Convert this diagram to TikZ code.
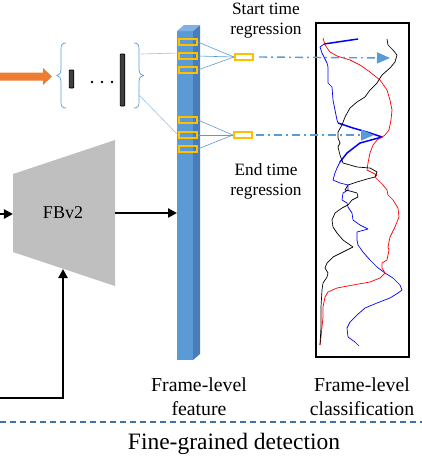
\documentclass[tikz,border=0pt]{standalone}
\usepackage{fontspec}
\setmainfont{Liberation Serif}
\usetikzlibrary{arrows.meta}
\definecolor{orng}{HTML}{ED7D31}
\definecolor{ylw}{HTML}{FFC000}
\definecolor{colfront}{HTML}{5B9BD5}
\definecolor{colside}{HTML}{4A7DB5}
\definecolor{coltop}{HTML}{7FB1E3}
\definecolor{lblue}{HTML}{9DC3E6}
\definecolor{mblue}{HTML}{5B9BD5}
\definecolor{dblue}{HTML}{41719C}
\definecolor{gbox}{HTML}{BFBFBF}
\tikzset{
  yrect/.style={draw=ylw, line width=2.2pt, minimum width=17.5pt, minimum height=6.5pt, inner sep=0pt},
  srect/.style={draw=ylw, fill=white, line width=2.2pt, minimum width=18pt, minimum height=6.5pt, inner sep=0pt},
  thinline/.style={draw=mblue, line width=0.6pt},
  faintline/.style={draw=lblue, line width=0.6pt},
  dashdotarrow/.style={draw=mblue, line width=1.4pt, dash pattern=on 8pt off 4pt on 2pt off 4pt, -{Triangle[length=13pt,width=11pt,fill=mblue]}},
  blackarrow/.style={draw=black, line width=2.3pt, -{Triangle[length=9pt,width=9pt]}},
  toptext/.style={font=\fontsize{17.3}{20}\selectfont, align=center, inner sep=0pt},
  bottext/.style={font=\fontsize{19.8}{24}\selectfont, align=center, inner sep=0pt},
  brc/.style={draw=mblue, line width=0.7pt},
  bar/.style={draw=black, fill=black!75, line width=0.8pt, rounded corners=0.8pt},
  curvethin/.style={line width=0.7pt, line join=round},
  curvethick/.style={line width=1.5pt, line join=round}
}
\begin{document}
\begin{tikzpicture}[x=1pt,y=-1pt]
\useasboundingbox (0,0) rectangle (422,459);

% orange arrow
\fill[orng] (0,72.5) -- (43,72.5) -- (43,68) -- (52,76.5) -- (43,85) -- (43,80.5) -- (0,80.5) -- cycle;

% braces
\draw[brc] (66,43) .. controls (62,43) and (61,45) .. (61,49) -- (61,70) .. controls (61,73) and (59.5,75) .. (57,75.5) .. controls (59.5,76) and (61,78) .. (61,81) -- (61,102) .. controls (61,106) and (62,108) .. (66,108);
\draw[brc] (134,43) .. controls (138,43) and (139,45) .. (139,49) -- (139,70) .. controls (139,73) and (140.5,75) .. (143.5,75.5) .. controls (140.5,76) and (139,78) .. (139,81) -- (139,102) .. controls (139,106) and (138,108) .. (134,108);

% bars and dots
\node[bar, minimum width=4.5pt, minimum height=18pt, inner sep=0pt] (b1) at (71.5,79) {};
\node[bar, minimum width=4.5pt, minimum height=52pt, inner sep=0pt] (b2) at (122.5,80) {};
\fill (92,82) circle (1.4) (102,82) circle (1.4) (112,82) circle (1.4);

% column
\fill[colfront] (177,31) rectangle (193,360);
\fill[colside] (193,31) -- (200,25) -- (200,354) -- (193,360) -- cycle;
\fill[coltop] (177,31) -- (184,25) -- (200,25) -- (193,31) -- cycle;

% lines from brace to column
\coordinate (bt) at (141,54);
\coordinate (bb) at (139,95);
\draw[faintline] (bt) -- (178,53);
\draw[faintline] (bb) -- (178,135);

% yellow boxes on column
\node[yrect] (f1) at (188,42) {};
\node[yrect] (f2) at (188,56) {};
\node[yrect] (f3) at (188,70) {};
\node[yrect] (f4) at (188,120) {};
\node[yrect] (f5) at (188,135) {};
\node[yrect] (f6) at (188,149) {};

% small regression boxes
\node[srect] (s1) at (244,57) {};
\node[srect] (s2) at (243,135) {};

\foreach \f in {f1,f2,f3} \draw[thinline] (\f.east) -- (s1.west);
\foreach \f in {f4,f5,f6} \draw[thinline] (\f.east) -- (s2.west);

% classification box
\node[draw=black, line width=1.4pt, minimum width=93pt, minimum height=334pt, inner sep=0pt] (cls) at (362.5,190) {};

% curves
\draw[blue, curvethick] (358,39) -- (324,44);
\draw[blue, curvethin] (324,44) -- (320,47) -- (322,53) -- (327,63) -- (328,67) -- (328,83) -- (332,87) -- (333,100) -- (335,110) -- (337,120) -- (338,123);
\draw[blue, curvethick] (338,123) -- (353,128) -- (367,132) -- (382,137) -- (360,143) -- (347,153) -- (340,162);
\draw[blue, curvethin] (340,162) -- (337,168) -- (335,173) -- (333,180) -- (340,183) -- (348,185) -- (348,190) -- (343,193) -- (342,200) -- (347,203) -- (348,207) -- (352,213) -- (353,220) -- (360,225) -- (368,229) -- (357,232) -- (357,240) -- (358,245) -- (363,252) -- (370,260) -- (377,267) -- (385,273) -- (393,278) -- (400,285) -- (402,290) -- (398,293) -- (390,298) -- (377,303) -- (365,308) -- (357,315) -- (350,322) -- (347,328) -- (348,337) -- (355,342) -- (359,346);

\draw[red, curvethin] (323,38) -- (325,45) -- (330,52) -- (337,56) -- (350,60) -- (360,65) -- (370,72) -- (380,80) -- (387,90) -- (390,100) -- (392,110) -- (391,120) -- (389,130) -- (385,135) -- (382,137) -- (377,140) -- (373,145) -- (370,153) -- (368,163) -- (367,170) -- (373,173) -- (377,175) -- (375,177) -- (378,180) -- (383,185) -- (387,190) -- (388,195) -- (393,200) -- (398,208) -- (399,217) -- (395,227) -- (390,237) -- (388,247) -- (389,250) -- (387,260) -- (382,263) -- (382,268) -- (385,273) -- (380,278) -- (370,282) -- (353,285) -- (337,288) -- (328,292) -- (325,297) -- (323,307) -- (323,317) -- (322,327) -- (321,337) -- (320,345);

\draw[black, curvethin] (387,39) -- (388,45) -- (393,50) -- (397,55) -- (395,62) -- (390,68) -- (382,75) -- (377,83) -- (370,90) -- (365,97) -- (357,102) -- (350,108) -- (345,117) -- (342,125) -- (338,132) -- (338,138) -- (340,143) -- (338,147) -- (340,155) -- (343,163) -- (357,167) -- (370,168) -- (377,172) -- (375,177) -- (367,179) -- (357,182) -- (348,185) -- (345,190) -- (350,191) -- (357,193) -- (358,197) -- (352,200) -- (348,205) -- (342,208) -- (335,213) -- (332,220) -- (333,227) -- (337,233) -- (343,240) -- (353,247) -- (347,250) -- (333,257) -- (327,263) -- (325,268) -- (328,273) -- (327,277) -- (323,283) -- (322,290) -- (321,307) -- (321,327) -- (320,345);

% dash-dot arrows
\coordinate (t1) at (390,58);
\coordinate (t2) at (374,135);
\draw[dashdotarrow] ([xshift=5pt]s1.east) -- (t1);
\draw[dashdotarrow] ([xshift=3pt]s2.east) -- (t2);

% top labels
\node[toptext] (st) at (266,21) {Start time\\regression};
\node[toptext] (et) at (266,181) {End time\\regression};

% FBv2 trapezoid
\coordinate (tl) at (13,174);
\coordinate (tr) at (115,140);
\coordinate (br) at (115,286);
\coordinate (bl) at (13,252);
\fill[gbox] (tl) -- (tr) -- (br) -- (bl) -- cycle;
\node[font=\fontsize{18}{20}\selectfont, inner sep=0pt] (fb) at (63,213) {FBv2};

% black arrows
\coordinate (in1) at (0,214);
\coordinate (in2) at (0,398);
\coordinate (in2c) at (63,398);
\draw[blackarrow] (in1) -- (13,214);
\draw[blackarrow] (115,213) -- (177,213);
\draw[blackarrow, line join=miter] (in2) -- (in2c) -- (63,269);

% bottom labels
\node[bottext] (fl) at (199,397) {Frame-level\\feature};
\node[bottext] (fc) at (362,397) {Frame-level\\classification};

% dashed separator
\coordinate (dl) at (0,422);
\coordinate (dr) at (422,422);
\draw[dblue, line width=1.6pt, dash pattern=on 6pt off 4pt] (dl) -- (dr);

\node[font=\fontsize{23.5}{26}\selectfont, inner sep=0pt] (fg) at (234,444) {Fine-grained detection};
\end{tikzpicture}
\end{document}
